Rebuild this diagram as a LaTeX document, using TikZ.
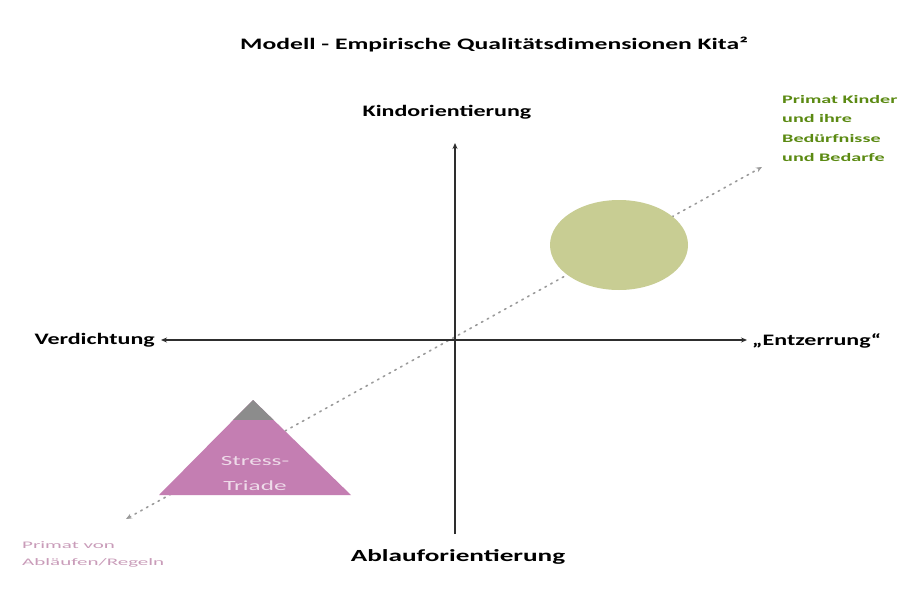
\documentclass[tikz,border=0pt]{standalone}
\usepackage{fontspec}
\setmainfont{Carlito}
\newfontfamily\labelfont[FakeStretch=1.5]{Carlito}
\newfontfamily\titlefont[FakeStretch=1.6]{Carlito}
\newfontfamily\notefont[FakeStretch=1.75]{Carlito}
\newfontfamily\flowfont[FakeStretch=2.1]{Carlito}
\newfontfamily\triadfont[FakeStretch=1.8]{Carlito}
\usetikzlibrary{arrows.meta,shapes.geometric}
\definecolor{axisgray}{HTML}{2E2E2E}
\definecolor{dotgray}{HTML}{9A9A9A}
\definecolor{olivefill}{HTML}{C8CD93}
\definecolor{triapink}{HTML}{C47EB2}
\definecolor{capgray}{HTML}{8C8C8C}
\definecolor{kidgreen}{HTML}{5B8A12}
\definecolor{flowpink}{HTML}{C99CB9}
\tikzset{
  axis/.style={draw=axisgray, line width=1.1pt},
  axislabel/.style={font=\labelfont\bfseries\fontsize{16}{19}\selectfont, text=black, inner sep=0pt},
  diag/.style={draw=dotgray, line width=1.6pt, dash pattern=on 1.6pt off 5pt, line cap=round},
  sidenote/.style={align=left, inner sep=0pt, anchor=north west},
}
\begin{document}
\begin{tikzpicture}[x=1pt,y=-1pt]
  \useasboundingbox[fill=white] (0,0) rectangle (902,613);

  % title
  \node[font=\titlefont\bfseries\fontsize{16}{19}\selectfont, inner sep=0pt] (title) at (494,45) {Modell - Empirische Qualitätsdimensionen Kita²};

  % axis ends
  \coordinate (origin) at (455,340);
  \coordinate (top) at (455,143);
  \coordinate (bottom) at (455,534);
  \coordinate (left) at (161,340);
  \coordinate (right) at (747,340);

  % diagonal end points
  \coordinate (dlow) at (126,519);
  \coordinate (dhigh) at (762,167);

  % diagonal line between the two poles
  \draw[diag, {Stealth[length=6pt,width=5pt]}-{Stealth[length=6pt,width=5pt]}] (dlow) -- (dhigh);

  % axes
  \draw[axis, -{Stealth[length=6pt,width=5pt]}] (bottom) -- (top);
  \draw[axis, {Stealth[length=6pt,width=5pt]}-{Stealth[length=6pt,width=5pt]}] (left) -- (right);

  % child-oriented cluster
  \node[ellipse, fill=olivefill, minimum width=138pt, minimum height=90pt, inner sep=0pt] (cluster) at (619,245) {};

  % stress triad
  \coordinate (apex) at (253,400);
  \coordinate (bl) at (159,495);
  \coordinate (br) at (351,495);
  \fill[triapink] (apex) -- (br) -- (bl) -- cycle;
  \begin{scope}
    \clip (0,0) rectangle (902,419);
    \fill[capgray] (apex) -- (br) -- (bl) -- cycle;
  \end{scope}
  \node[font=\triadfont\fontsize{14}{25}\selectfont, text=white!72!triapink, align=center, inner sep=0pt] (triad) at (255,474) {Stress-\\Triade};

  % axis labels
  \node[axislabel] (kind) at (447,112) {Kindorientierung};
  \node[axislabel, font=\titlefont\bfseries\fontsize{17}{20}\selectfont] (ablauf) at (458,557) {Ablauforientierung};
  \node[axislabel, anchor=east] (verd) at (155,340) {Verdichtung};
  \node[axislabel, anchor=west] (entz) at (752,341) {„Entzerrung“};

  % pole notes
  \node[sidenote, font=\notefont\bfseries\fontsize{11.5}{19.5}\selectfont, text=kidgreen] (kids) at (782,95) {Primat Kinder\\und ihre\\Bedürfnisse\\und Bedarfe};
  \node[sidenote, font=\flowfont\fontsize{10}{17}\selectfont, text=flowpink] (flow) at (22,541) {Primat von\\Abläufen/Regeln};
\end{tikzpicture}
\end{document}
